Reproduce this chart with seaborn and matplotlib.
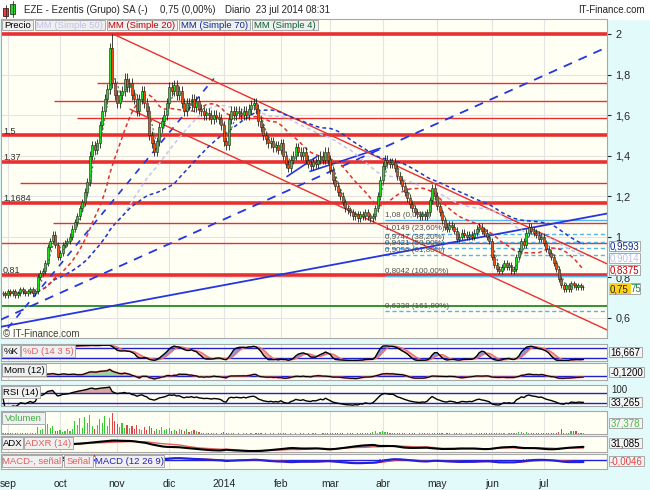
import numpy as np
import pandas as pd
import matplotlib
matplotlib.use("Agg")
import matplotlib.pyplot as plt
from matplotlib.patches import Rectangle
import seaborn as sns

sns.set_style("white")
plt.rcParams["font.family"] = ["Liberation Sans", "DejaVu Sans"]

# --- datos ---
fechas = pd.bdate_range("2013-08-29", "2014-07-23")

cierres = [
    0.72, 0.71, 0.73, 0.72, 0.73, 0.71, 0.72, 0.74, 0.73, 0.72, 0.73, 0.74, 0.72, 0.73,
    0.80, 0.82, 0.83, 0.87, 0.95, 0.98, 1.01, 0.96, 0.90, 0.92, 0.96, 0.97, 0.98, 1.00, 1.04, 1.07, 1.10, 1.14, 1.17, 1.22,
    1.27, 1.40, 1.45, 1.43, 1.46, 1.55, 1.62, 1.68, 1.73, 1.93, 1.76, 1.70, 1.66, 1.70, 1.72, 1.78, 1.74, 1.76, 1.70, 1.68,
    1.62, 1.68, 1.72, 1.66, 1.62, 1.50, 1.46, 1.42, 1.47, 1.54, 1.57, 1.60, 1.66, 1.74, 1.72, 1.75, 1.70, 1.72, 1.66, 1.62,
    1.66, 1.65, 1.68, 1.64, 1.67, 1.63, 1.62, 1.60, 1.61, 1.60, 1.58, 1.60, 1.59, 1.58, 1.55, 1.47, 1.45, 1.58, 1.62, 1.60,
    1.62, 1.61, 1.60, 1.62, 1.60, 1.63, 1.65, 1.66, 1.63, 1.57, 1.54, 1.50, 1.48, 1.46, 1.47, 1.44, 1.45, 1.43, 1.46, 1.40,
    1.36, 1.34, 1.38, 1.40, 1.44, 1.42, 1.40, 1.42, 1.38, 1.36, 1.35, 1.37, 1.36, 1.38, 1.40, 1.38, 1.42, 1.38, 1.33, 1.28,
    1.25, 1.22, 1.20, 1.17, 1.14, 1.13, 1.12, 1.10, 1.11, 1.09, 1.11, 1.10, 1.12, 1.10, 1.09, 1.10, 1.14, 1.20, 1.28, 1.35,
    1.38, 1.37, 1.36, 1.37, 1.34, 1.30, 1.28, 1.25, 1.22, 1.19, 1.16, 1.14, 1.12, 1.11, 1.10, 1.11, 1.10, 1.12, 1.18, 1.24,
    1.20, 1.15, 1.12, 1.08, 1.05, 1.04, 1.06, 1.05, 1.03, 0.99, 1.00, 1.02, 1.01, 1.00, 1.01, 1.00, 1.02, 1.04, 1.05, 1.03,
    1.02, 1.00, 0.98, 0.90, 0.86, 0.84, 0.83, 0.85, 0.87, 0.85, 0.86, 0.83, 0.84, 0.90, 0.93, 0.98, 0.96, 1.02, 1.05, 1.03,
    1.02, 1.01, 0.99, 1.00, 0.97, 0.94, 0.92, 0.90, 0.87, 0.84, 0.79, 0.76, 0.74, 0.76, 0.74, 0.77, 0.76, 0.75, 0.76, 0.75, 0.75,
]

# volumen en miles
volumen = [
    40, 30, 60, 35, 50, 45, 30, 70, 40, 35, 55, 60, 30, 45,
    320, 180, 260, 420, 500, 300, 380, 150, 120, 200, 90, 160, 220, 130, 250, 600, 420, 750, 300, 820,
    540, 900, 380, 260, 450, 700, 520, 880, 400, 760, 1000, 620, 480, 350, 520, 280, 450, 300, 380, 240,
    420, 260, 180, 320, 210, 380, 300, 150, 260, 200, 330, 180, 240, 280, 150, 200, 120, 260, 180, 140,
    220, 110, 160, 200, 130, 90, 60, 40, 30, 70, 25, 50, 35, 20, 45, 80, 60, 40, 30, 25,
    20, 35, 15, 25, 40, 20, 30, 15, 25, 45, 30, 20, 35, 15, 25, 30, 20, 40, 25, 30,
    35, 20, 25, 15, 30, 20, 40, 25, 15, 30, 20, 25, 35, 20, 15, 30, 25, 40, 35, 45,
    30, 25, 40, 35, 20, 30, 25, 35, 20, 30, 25, 40, 30, 35, 45, 90, 120, 70, 110, 140,
    100, 80, 60, 40, 35, 30, 25, 40, 30, 20, 35, 25, 30, 20, 40, 25, 30, 35, 60, 50,
    40, 30, 25, 35, 20, 30, 25, 20, 35, 40, 25, 30, 20, 25, 35, 30, 20, 25, 30, 35,
    25, 30, 40, 60, 45, 30, 25, 35, 30, 20, 25, 30, 35, 50, 90, 110, 70, 80, 45, 40,
    35, 30, 25, 40, 30, 35, 45, 40, 50, 60, 80, 220, 60, 40, 50, 150, 120, 160, 60, 50, 37,
]

meses = ["sep", "oct", "nov", "dic", "2014", "feb", "mar", "abr", "may", "jun", "jul"]
precios_eje = [0.6, 0.8, 1.0, 1.2, 1.4, 1.6, 1.8, 2.0]

# líneas horizontales dibujadas en el gráfico: (precio, índice de inicio, gruesa)
niveles_rojos = [(2.0, -1, True), (1.757, 38, False), (1.668, 20.5, False), (1.584, 30, False),
                 (1.5, -1, True), (1.37, -1, True), (1.267, 7, False), (1.1684, -1, True),
                 (1.069, 20, False), (0.97, -1, False), (0.81, -1, True)]
nivel_verde = 0.658
etiquetas_niveles = [(1.5, "1,5"), (1.37, "1,37"), (1.1684, "1,1684"), (0.81, "0,81")]

fibo_valores = [1.08, 1.0149, 0.9747, 0.9421, 0.9096, 0.8042, 0.6338]
fibo_pct = ["0,00%", "23,60%", "38,20%", "50,00%", "61,80%", "100,00%", "161,80%"]
fibo_inicio = 154

# rectas de tendencia: (índice, precio) inicial y final
rectas = [
    ((-1, 0.59), (243.5, 1.935), "#2436E0", (0, (5, 4)), 1.3),
    ((-1, 0.555), (243.5, 1.114), "#2436E0", "-", 1.3),
    ((2, 0.55), (85, 1.78), "#2436E0", (0, (4, 4)), 1.2),
    ((114.5, 1.297), (126.6, 1.396), "#2436E0", "-", 1.2),
    ((123.8, 1.322), (152, 1.436), "#2436E0", "-", 1.2),
    ((44.4, 2.0), (243.5, 0.866), "#E83030", "-", 1.0),
    ((51.2, 1.629), (243.5, 0.540), "#E83030", "-", 1.0),
]

# --- cálculos ---
n = len(cierres)
xs = np.arange(n)
c = pd.Series(cierres, dtype=float)
o = c.shift(1).fillna(c.iloc[0])
alto = np.maximum(o, c) * 1.012 + 0.004
bajo = np.minimum(o, c) * 0.988 - 0.004
alto[44] = 2.0
sube = (c >= o).values

mm = {k: c.rolling(k, min_periods=1).mean() for k in (4, 20, 50, 70)}

hh = alto.rolling(14, min_periods=1).max()
ll = bajo.rolling(14, min_periods=1).min()
stoch_k = (100 * (c - ll) / (hh - ll)).rolling(3, min_periods=1).mean()
stoch_d = stoch_k.rolling(5, min_periods=1).mean()

mom = c.diff(12)

delta = c.diff()
gan = delta.clip(lower=0).ewm(alpha=1 / 14, adjust=False).mean()
per = (-delta.clip(upper=0)).ewm(alpha=1 / 14, adjust=False).mean()
rsi = 100 - 100 / (1 + gan / per.replace(0, np.nan))
rsi = rsi.fillna(50)

prev = c.shift(1)
tr = pd.concat([alto - bajo, (alto - prev).abs(), (bajo - prev).abs()], axis=1).max(axis=1)
up_m = alto.diff()
dn_m = -bajo.diff()
pdm = pd.Series(np.where((up_m > dn_m) & (up_m > 0), up_m, 0.0))
mdm = pd.Series(np.where((dn_m > up_m) & (dn_m > 0), dn_m, 0.0))
atr = tr.ewm(alpha=1 / 14, adjust=False).mean()
pdi = 100 * pdm.ewm(alpha=1 / 14, adjust=False).mean() / atr
mdi = 100 * mdm.ewm(alpha=1 / 14, adjust=False).mean() / atr
dx = 100 * (pdi - mdi).abs() / (pdi + mdi)
adx = dx.ewm(alpha=1 / 14, adjust=False).mean()
adxr = ((adx + adx.shift(14)) / 2).bfill()

macd = c.ewm(span=12, adjust=False).mean() - c.ewm(span=26, adjust=False).mean()
senal = macd.ewm(span=9, adjust=False).mean()
hist = macd - senal

pos = pd.Series(xs, index=fechas)
mes_idx = list(pos.groupby([fechas.year, fechas.month]).first().values[1:])

# --- figura ---
W, H = 650, 490
fig = plt.figure(figsize=(6.5, 4.9), dpi=100)
fig.patch.set_facecolor("#E2FAFA")


def zona(x0, y0, x1, y1):
    return fig.add_axes([x0 / W, 1 - y1 / H, (x1 - x0) / W, (y1 - y0) / H])


fondo = zona(0, 0, W, H)
fondo.set_xlim(0, W)
fondo.set_ylim(H, 0)
fondo.axis("off")
fondo.add_patch(Rectangle((0, 0), W, 19, color="white"))

XL = (-0.8, 243.5)


def panel(y0, y1):
    a = zona(1, y0, 607, y1)
    a.set_facecolor("#FFFFF4")
    a.set_xlim(*XL)
    a.set_xticks(mes_idx)
    a.tick_params(axis="x", length=0, labelbottom=False)
    a.set_yticks([])
    a.grid(axis="x", color="#E4E4E4", lw=0.8)
    for s in a.spines.values():
        s.set_color("#A8A8A8")
        s.set_linewidth(0.8)
    return a


# panel de precio
ax = panel(19, 338)
ax.set_ylim(0.5, 2.074)
ax.yaxis.tick_right()
ax.set_yticks(precios_eje, [f"{v:g}".replace(".", ",") for v in precios_eje])
ax.tick_params(axis="y", length=3, pad=3, labelsize=7.8, width=0.8)
ax.grid(axis="y", color="#E4E4E4", lw=0.8)

for p, i0, grueso in niveles_rojos:
    ax.hlines(p, i0, XL[1], color="#E83030", lw=2.6 if grueso else 1.0, zorder=2)
ax.hlines(nivel_verde, XL[0], XL[1], color="#108010", lw=1.2, zorder=2)

for v, pct in zip(fibo_valores, fibo_pct):
    estilo = "-" if pct in ("0,00%", "100,00%") else (0, (3, 2))
    ax.hlines(v, fibo_inicio, XL[1], color="#55B4F0", lw=1.0, linestyles=[estilo], zorder=2)
    ax.text(fibo_inicio, v + 0.006, f"{v:g}".replace(".", ",") + f" ({pct})",
            fontsize=5.8, color="#505050", va="bottom", zorder=6)

for (i0, p0), (i1, p1), col, ls, lw in rectas:
    ax.plot([i0, i1], [p0, p1], color=col, ls=ls, lw=lw, zorder=3)

sns.lineplot(x=xs, y=mm[50].values, ax=ax, color="#C4C4F2", lw=1.1, linestyle=(0, (2.5, 2)), zorder=3)
sns.lineplot(x=xs, y=mm[70].values, ax=ax, color="#2436C8", lw=1.1, linestyle=(0, (2.5, 2)), zorder=3)
sns.lineplot(x=xs, y=mm[20].values, ax=ax, color="#E03030", lw=1.1, linestyle=(0, (2.5, 2)), zorder=3)

colores = np.where(sube, "#22DD22", "#F04A10")
ax.vlines(xs, bajo, alto, color="#202020", lw=0.6, zorder=4)
ax.bar(xs, np.maximum((c - o).abs(), 0.004), bottom=np.minimum(o, c), width=0.8,
       color=colores, edgecolor="#202020", linewidth=0.4, zorder=5)
sns.lineplot(x=xs, y=mm[4].values, ax=ax, color="#3A7A4A", lw=0.8, linestyle=(0, (2, 2)), zorder=6)

# %K %D
a1 = panel(344, 361)
a1.set_ylim(2, 104)
a1.fill_between(xs, stoch_k, stoch_d, where=stoch_k >= stoch_d, color="#8A98E0", lw=0, interpolate=True)
a1.fill_between(xs, stoch_k, stoch_d, where=stoch_k < stoch_d, color="#F2A8A8", lw=0, interpolate=True)
a1.axhline(80, color="#2020D0", lw=1)
a1.axhline(20, color="#2020D0", lw=1)
sns.lineplot(x=xs, y=stoch_d.values, ax=a1, color="#F07070", lw=1)
sns.lineplot(x=xs, y=stoch_k.values, ax=a1, color="black", lw=1)

# Momento
a2 = panel(363, 380)
a2.set_ylim(-0.48, 1.56)
a2.fill_between(xs, mom, 0, where=mom > 0, color="#9CD49C", lw=0, interpolate=True)
a2.fill_between(xs, mom, 0, where=mom < 0, color="#E4AAAA", lw=0, interpolate=True)
a2.axhline(0, color="#2020D0", lw=1)
sns.lineplot(x=xs, y=mom.values, ax=a2, color="#F07070", lw=1.4)
sns.lineplot(x=xs, y=mom.values, ax=a2, color="black", lw=0.8)

# RSI
a3 = panel(385, 406)
a3.set_ylim(18, 102)
a3.fill_between(xs, rsi, 70, where=rsi > 70, color="#D8A8A0", lw=0, interpolate=True)
a3.axhline(70, color="#2020D0", lw=1)
a3.axhline(30, color="#2020D0", lw=1)
sns.lineplot(x=xs, y=rsi.values, ax=a3, color="black", lw=1)

# Volumen
a4 = panel(411, 434)
a4.set_ylim(0, 1100)
a4.bar(xs, volumen, width=0.45, color=np.where(sube, "#33CC33", "#E04444"), lw=0)

# ADX
a5 = panel(436, 452)
a5.set_ylim(adx.min() - 6, adx.max() + 6)
a5.fill_between(xs, adx, adxr, where=adx >= adxr, color="#8A98E0", lw=0, interpolate=True)
sns.lineplot(x=xs, y=adxr.values, ax=a5, color="#E06060", lw=1)
sns.lineplot(x=xs, y=adx.values, ax=a5, color="black", lw=1.5)

# MACD
a6 = panel(454, 469)
a6.set_ylim(-0.25, 0.17)
a6.bar(xs, hist, width=0.45, color=np.where(hist >= 0, "#40C040", "#E04444"), lw=0)
a6.axhline(0, color="#2020E0", lw=1)
sns.lineplot(x=xs, y=senal.values, ax=a6, color="#E04444", lw=1)
sns.lineplot(x=xs, y=macd.values, ax=a6, color="#2020E0", lw=1.5)
a6.set_xticks(mes_idx, meses)
a6.tick_params(axis="x", length=0, pad=7, labelsize=7.5, labelbottom=True)

# --- capa de textos ---
capa = zona(0, 0, W, H)
capa.set_xlim(0, W)
capa.set_ylim(H, 0)
capa.axis("off")


def caja(x0, x1, y0, y1, texto, color, fondo_c="#F0F0F0", size=6.8):
    capa.add_patch(Rectangle((x0, y0), x1 - x0, y1 - y0, facecolor=fondo_c, edgecolor="#A8A8A8", lw=0.7))
    capa.text((x0 + x1) / 2, (y0 + y1) / 2 + 0.5, texto, ha="center", va="center", fontsize=size, color=color)


# icono y título
capa.add_patch(Rectangle((3, 8), 5, 8, facecolor="#E84040", edgecolor="#402020", lw=0.6))
capa.plot([5.5, 5.5], [5, 18], color="#402020", lw=0.6)
capa.add_patch(Rectangle((10, 4), 5, 10, facecolor="#30D030", edgecolor="#204020", lw=0.6))
capa.plot([12.5, 12.5], [1, 17], color="#204020", lw=0.6)
capa.text(24, 10, "EZE - Ezentis (Grupo) SA (-)", va="center", fontsize=7.0)
capa.text(160, 10, "0,75 (0,00%)", va="center", fontsize=7.0)
capa.text(225, 10, "Diario  23 jul 2014 08:31", va="center", fontsize=7.0)
capa.text(645, 10, "IT-Finance.com", va="center", ha="right", fontsize=7.0)

botones = [("Precio", 2, 33, "black"), ("MM (Simple 50)", 35, 105, "#C0C0EC"),
           ("MM (Simple 20)", 107, 177, "#C00000"), ("MM (Simple 70)", 179, 250, "#0A2A90"),
           ("MM (Simple 4)", 252, 318, "#0A6030")]
for t, x0, x1, col in botones:
    caja(x0, x1, 20, 30, t, col)

for p, t in etiquetas_niveles:
    y = 35 + (2 - p) * 202
    capa.text(3, y - 5, t, fontsize=6.5, color="#303030", va="center")
capa.text(3, 334, "© IT-Finance.com", fontsize=7, color="#404040", va="center")

# cajas de valores a la derecha
caja(609, 640, 241, 251, "0,9593", "#0A2A90", "white", 7.0)
caja(609, 640, 253, 263, "0,9014", "#C0C0EC", "white", 7.0)
caja(609, 640, 265, 275, "0,8375", "#C00000", "white", 7.0)
capa.add_patch(Rectangle((609, 283), 31, 11, facecolor="white", edgecolor="#A8A8A8", lw=0.7))
capa.add_patch(Rectangle((609, 283), 22, 11, facecolor="#FFD21A", lw=0))
capa.text(610, 289, "0,75", fontsize=7.0, va="center")
capa.text(630, 289, "75", fontsize=7.0, va="center", color="#208040")

caja(2, 20, 345, 357, "%K", "black")
caja(21, 75, 345, 357, "%D (14 3 5)", "#E06060")
caja(2, 46, 364, 376, "Mom (12)", "black")
caja(2, 40, 386, 398, "RSI (14)", "black")
caja(2, 45, 412, 424, "Volumen", "#40B040")
caja(2, 23, 437, 449, "ADX", "black")
caja(24, 73, 437, 449, "ADXR (14)", "#E06060")
caja(2, 62, 455, 467, "MACD-, señal", "#E06060")
caja(64, 93, 455, 467, "Señal", "#E06060")
caja(95, 164, 455, 467, "MACD (12 26 9)", "#2020C0")

caja(609, 642, 347, 357, "16,667", "black", "#F4F4F4", 7.0)
caja(609, 644, 367, 377, "-0,1200", "black", "#F4F4F4", 7.0)
capa.text(611, 390, "100", fontsize=7.0, va="center")
caja(609, 642, 397, 407, "33,265", "black", "#F4F4F4", 7.0)
caja(609, 642, 418, 428, "37,378", "#40C040", "#F4F4F4", 7.0)
caja(609, 642, 438, 448, "31,085", "black", "#F4F4F4", 7.0)
caja(609, 644, 456, 466, "-0,0046", "#E04444", "#F4F4F4", 7.0)

fig.savefig("out.png", dpi=100, facecolor=fig.get_facecolor())
